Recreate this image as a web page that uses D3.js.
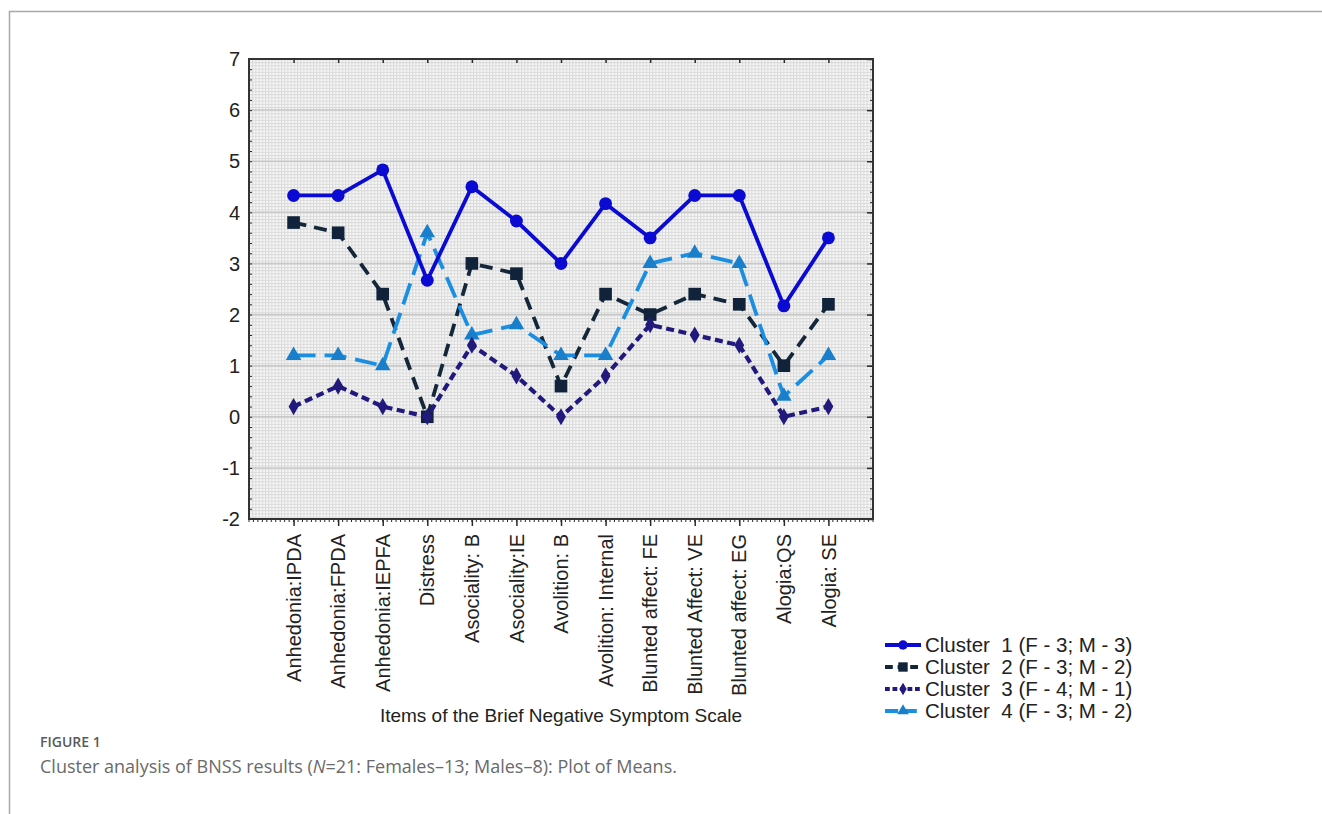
<!DOCTYPE html>
<html>
<head>
<meta charset="utf-8">
<script src="https://cdn.jsdelivr.net/npm/d3@7"></script>
<style>
  body { margin: 0; background: #fff; }
  svg { display: block; }
  .legend text { white-space: pre; }
</style>
</head>
<body>
<div id="chart"></div>
<script>
var items = [
  "Anhedonia:IPDA", "Anhedonia:FPDA", "Anhedonia:IEPFA", "Distress",
  "Asociality: B", "Asociality:IE", "Avolition: B", "Avolition: Internal",
  "Blunted affect: FE", "Blunted Affect: VE", "Blunted affect: EG",
  "Alogia:QS", "Alogia: SE"
];
var cluster1 = [4.33, 4.33, 4.83, 2.67, 4.5, 3.83, 3.0, 4.17, 3.5, 4.33, 4.33, 2.17, 3.5];
var cluster2 = [3.8, 3.6, 2.4, 0.0, 3.0, 2.8, 0.6, 2.4, 2.0, 2.4, 2.2, 1.0, 2.2];
var cluster3 = [0.2, 0.6, 0.2, 0.0, 1.4, 0.8, 0.0, 0.8, 1.8, 1.6, 1.4, 0.0, 0.2];
var cluster4 = [1.2, 1.2, 1.0, 3.6, 1.6, 1.8, 1.2, 1.2, 3.0, 3.2, 3.0, 0.4, 1.2];
var legendLabels = [
  "Cluster  1 (F - 3; M - 3)",
  "Cluster  2 (F - 3; M - 2)",
  "Cluster  3 (F - 4; M - 1)",
  "Cluster  4 (F - 3; M - 2)"
];
var yTicks = [-2, -1, 0, 1, 2, 3, 4, 5, 6, 7];

var series = [
  { name: legendLabels[0], values: cluster1, color: "#0a0ad2", dash: null, width: 3.8, symbol: d3.symbolCircle, size: 130, mcolor: "#0a0ad2" },
  { name: legendLabels[1], values: cluster2, color: "#13263a", dash: "13,8", width: 3.8, symbol: d3.symbolSquare, size: 160, mcolor: "#10233a" },
  { name: legendLabels[2], values: cluster3, color: "#22197c", dash: "8,4.5", width: 4.2, symbol: d3.symbolDiamond, size: 85, mcolor: "#22197c" },
  { name: legendLabels[3], values: cluster4, color: "#1b8ee2", dash: "22,9", width: 3.8, symbol: d3.symbolTriangle, size: 105, mcolor: "#1a7fca" }
];

var width = 1322, height = 814;
var plot = { left: 249, top: 59, right: 873, bottom: 519 };
var font = "Liberation Sans, Arial, sans-serif";

var svg = d3.select("#chart").append("svg")
  .attr("width", width)
  .attr("height", height);

// outer frame lines of the figure panel
svg.append("path")
  .attr("d", "M9.5,814 V11.5 H1322")
  .attr("fill", "none")
  .attr("stroke", "#a8a8a8")
  .attr("stroke-width", 1.5);

var x = d3.scalePoint()
  .domain(items)
  .range([plot.left, plot.right])
  .padding(1);

var y = d3.scaleLinear()
  .domain([-2, 7])
  .range([plot.bottom, plot.top]);

// fine grid texture
var defs = svg.append("defs");
var pat = defs.append("pattern")
  .attr("id", "fine")
  .attr("patternUnits", "userSpaceOnUse")
  .attr("width", 3.2)
  .attr("height", 3.2)
  .attr("x", plot.left)
  .attr("y", plot.top);
pat.append("rect").attr("width", 3.2).attr("height", 3.2).attr("fill", "#f8f8f8");
pat.append("path").attr("d", "M0,0.5 H3.2 M0.5,0 V3.2").attr("stroke", "#d8d8d8").attr("stroke-width", 1);

svg.append("rect")
  .attr("x", plot.left)
  .attr("y", plot.top)
  .attr("width", plot.right - plot.left)
  .attr("height", plot.bottom - plot.top)
  .attr("fill", "url(#fine)");

// major horizontal grid
svg.append("g")
  .selectAll("line")
  .data(yTicks)
  .enter()
  .append("line")
  .attr("x1", plot.left)
  .attr("x2", plot.right)
  .attr("y1", (d) => y(d))
  .attr("y2", (d) => y(d))
  .attr("stroke", "#c8c8c8")
  .attr("stroke-width", 1.5);

// axes with STATISTICA-like ticks
var minor = d3.range(-2, 7.001, 0.2);
var axisColor = "#2a2a2a";

svg.append("g")
  .attr("transform", "translate(" + plot.left + ",0)")
  .call(d3.axisRight(y).tickValues(minor).tickSize(3).tickFormat(""))
  .call((g) => g.select(".domain").remove())
  .selectAll("line").attr("stroke", axisColor);

svg.append("g")
  .attr("transform", "translate(" + plot.right + ",0)")
  .call(d3.axisLeft(y).tickValues(minor).tickSize(3).tickFormat(""))
  .call((g) => g.select(".domain").remove())
  .selectAll("line").attr("stroke", axisColor);

svg.append("g")
  .attr("transform", "translate(" + plot.right + ",0)")
  .call(d3.axisLeft(y).tickValues(yTicks).tickSize(6).tickFormat(""))
  .call((g) => g.select(".domain").remove())
  .selectAll("line").attr("stroke", axisColor).attr("stroke-width", 1.5);

svg.append("g")
  .attr("transform", "translate(0," + plot.top + ")")
  .call(d3.axisBottom(x).tickSize(4).tickFormat(""))
  .call((g) => g.select(".domain").remove())
  .selectAll("line").attr("stroke", axisColor).attr("stroke-width", 1.5);

var step = x.step();
var minorX = d3.range(plot.left, plot.right + 0.1, step / 10);
svg.append("g")
  .selectAll("line")
  .data(minorX)
  .enter()
  .append("line")
  .attr("x1", (d) => d)
  .attr("x2", (d) => d)
  .attr("y1", plot.bottom)
  .attr("y2", plot.bottom + 3)
  .attr("stroke", axisColor);

var xAxis = svg.append("g")
  .attr("transform", "translate(0," + plot.bottom + ")")
  .call(d3.axisBottom(x).tickSize(7).tickPadding(0).tickFormat(""));
xAxis.select(".domain").remove();
xAxis.selectAll("line").attr("stroke", axisColor).attr("stroke-width", 1.5);

// y tick labels
svg.append("g")
  .selectAll("text")
  .data(yTicks)
  .enter()
  .append("text")
  .attr("x", 240)
  .attr("y", (d) => y(d))
  .attr("dy", "0.36em")
  .attr("text-anchor", "end")
  .attr("font-family", font)
  .attr("font-size", 20)
  .attr("fill", "#222")
  .text((d) => d);

// x tick labels, rotated
svg.append("g")
  .selectAll("text")
  .data(items)
  .enter()
  .append("text")
  .attr("transform", (d) => "translate(" + x(d) + ",534) rotate(-90)")
  .attr("dy", "0.36em")
  .attr("text-anchor", "end")
  .attr("font-family", font)
  .attr("font-size", 20)
  .attr("fill", "#222")
  .text((d) => d);

svg.append("text")
  .attr("x", (plot.left + plot.right) / 2)
  .attr("y", 722)
  .attr("text-anchor", "middle")
  .attr("font-family", font)
  .attr("font-size", 19)
  .attr("fill", "#222")
  .text("Items of the Brief Negative Symptom Scale");

// plot border
svg.append("rect")
  .attr("x", plot.left)
  .attr("y", plot.top)
  .attr("width", plot.right - plot.left)
  .attr("height", plot.bottom - plot.top)
  .attr("fill", "none")
  .attr("stroke", "#333")
  .attr("stroke-width", 2);

var line = d3.line()
  .x((d, i) => x(items[i]))
  .y((d) => y(d));

var drawOrder = [1, 3, 2, 0];
drawOrder.forEach(function (k) {
  var s = series[k];
  svg.append("path")
    .datum(s.values)
    .attr("d", line)
    .attr("fill", "none")
    .attr("stroke", s.color)
    .attr("stroke-width", s.width)
    .attr("stroke-dasharray", s.dash);

  svg.append("g")
    .selectAll("path")
    .data(s.values)
    .enter()
    .append("path")
    .attr("transform", (d, i) => "translate(" + x(items[i]) + "," + y(d) + ")")
    .attr("d", d3.symbol().type(s.symbol).size(s.size))
    .attr("fill", s.mcolor);
});

// legend
var legend = svg.selectAll(".legend")
  .data(series)
  .enter()
  .append("g")
  .attr("class", "legend")
  .attr("transform", (d, i) => "translate(885," + (645 + i * 22) + ")");

legend.append("line")
  .attr("x1", 0)
  .attr("x2", 36)
  .attr("stroke", (d) => d.color)
  .attr("stroke-width", (d) => d.width)
  .attr("stroke-dasharray", (d) => (d.dash ? d.dash.split(",").map((v) => v * 0.6).join(",") : null));

legend.append("path")
  .attr("transform", "translate(18,0)")
  .attr("d", (d) => d3.symbol().type(d.symbol).size(d.size * 0.55)())
  .attr("fill", (d) => d.mcolor);

legend.append("text")
  .attr("x", 40)
  .attr("dy", "0.36em")
  .attr("font-family", font)
  .attr("font-size", 20.5)
  .attr("fill", "#222")
  .text((d) => d.name);

// caption
svg.append("text")
  .attr("x", 40)
  .attr("y", 747)
  .attr("font-family", "Open Sans, sans-serif")
  .attr("font-size", 14)
  .attr("font-weight", 600)
  .attr("fill", "#5a5a5a")
  .text("FIGURE 1");

var cap = svg.append("text")
  .attr("x", 40)
  .attr("y", 773)
  .attr("font-family", "Open Sans, sans-serif")
  .attr("font-size", 18)
  .attr("fill", "#6a6a6a");
cap.append("tspan").text("Cluster analysis of BNSS results (");
cap.append("tspan").attr("font-style", "italic").text("N");
cap.append("tspan").text("=21: Females\u201313; Males\u20138): Plot of Means.");
</script>
</body>
</html>
